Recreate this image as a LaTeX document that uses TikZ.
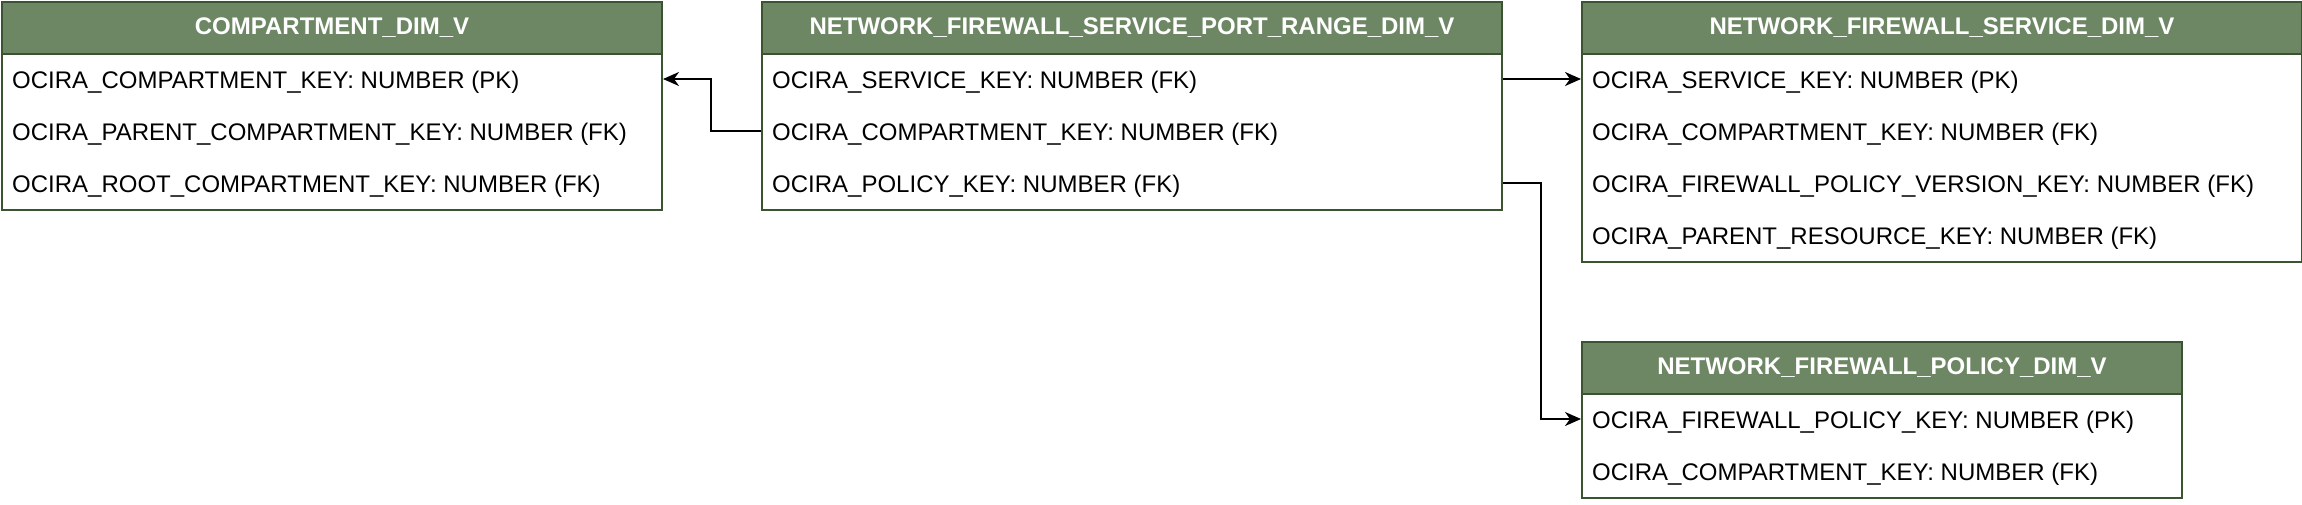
\documentclass[tikz,border=0pt]{standalone}
\usepackage{fontspec}
\setmainfont{Liberation Sans}
\usetikzlibrary{arrows.meta}
\definecolor{hdrfill}{HTML}{6D8764}
\definecolor{tblstroke}{HTML}{3A5431}
\tikzset{
  tbl/.style={draw=tblstroke, fill=white, line width=2pt, anchor=north west, inner sep=0pt},
  hdr/.style={draw=tblstroke, fill=hdrfill, line width=2pt, anchor=north west, inner sep=0pt,
    minimum height=52pt, text=white, font=\fontsize{24}{28}\selectfont\bfseries},
  row/.style={anchor=west, inner sep=0pt, font=\fontsize{24}{28}\selectfont, text=black},
  conn/.style={draw=black, line width=2pt, -{Stealth[length=16pt,width=14pt,inset=5pt]}}
}
\begin{document}
\begin{tikzpicture}[x=1pt,y=-1pt]
\useasboundingbox (0,0) rectangle (2302,504);
% Compartment table
\node[tbl, minimum width=660pt, minimum height=208pt] (comp) at (1,1) {};
\node[hdr, minimum width=660pt] (comph) at (1,1) {COMPARTMENT\_DIM\_V};
\node[row] (c1) at (12,82) {OCIRA\_COMPARTMENT\_KEY: NUMBER (PK)};
\node[row] (c2) at (12,134) {OCIRA\_PARENT\_COMPARTMENT\_KEY: NUMBER (FK)};
\node[row] (c3) at (12,186) {OCIRA\_ROOT\_COMPARTMENT\_KEY: NUMBER (FK)};
% Middle table
\node[tbl, minimum width=740pt, minimum height=208pt] (mid) at (761,1) {};
\node[hdr, minimum width=740pt] (midh) at (761,1) {NETWORK\_FIREWALL\_SERVICE\_PORT\_RANGE\_DIM\_V};
\node[row] (m1) at (772,82) {OCIRA\_SERVICE\_KEY: NUMBER (FK)};
\node[row] (m2) at (772,134) {OCIRA\_COMPARTMENT\_KEY: NUMBER (FK)};
\node[row] (m3) at (772,186) {OCIRA\_POLICY\_KEY: NUMBER (FK)};
% Service table
\node[tbl, minimum width=720pt, minimum height=260pt] (svc) at (1581,1) {};
\node[hdr, minimum width=720pt] (svch) at (1581,1) {NETWORK\_FIREWALL\_SERVICE\_DIM\_V};
\node[row] (s1) at (1592,82) {OCIRA\_SERVICE\_KEY: NUMBER (PK)};
\node[row] (s2) at (1592,134) {OCIRA\_COMPARTMENT\_KEY: NUMBER (FK)};
\node[row] (s3) at (1592,186) {OCIRA\_FIREWALL\_POLICY\_VERSION\_KEY: NUMBER (FK)};
\node[row] (s4) at (1592,238) {OCIRA\_PARENT\_RESOURCE\_KEY: NUMBER (FK)};
% Policy table
\node[tbl, minimum width=600pt, minimum height=156pt] (pol) at (1581,341) {};
\node[hdr, minimum width=600pt] (polh) at (1581,341) {NETWORK\_FIREWALL\_POLICY\_DIM\_V};
\node[row] (p1) at (1592,422) {OCIRA\_FIREWALL\_POLICY\_KEY: NUMBER (PK)};
\node[row] (p2) at (1592,474) {OCIRA\_COMPARTMENT\_KEY: NUMBER (FK)};
% Connectors (at row mid-lines)
\coordinate (j1) at (711,0);
\coordinate (j2) at (1541,0);
\coordinate (r1) at (0,79);
\coordinate (r2) at (0,131);
\coordinate (r3) at (0,183);
\coordinate (rp) at (0,419);
\draw[conn] (mid.west |- r2) -- (j1 |- r2) -- (j1 |- r1) -- (comp.east |- r1);
\draw[conn] (mid.east |- r1) -- (svc.west |- r1);
\draw[conn] (mid.east |- r3) -- (j2 |- r3) -- (j2 |- rp) -- (pol.west |- rp);
\end{tikzpicture}
\end{document}
